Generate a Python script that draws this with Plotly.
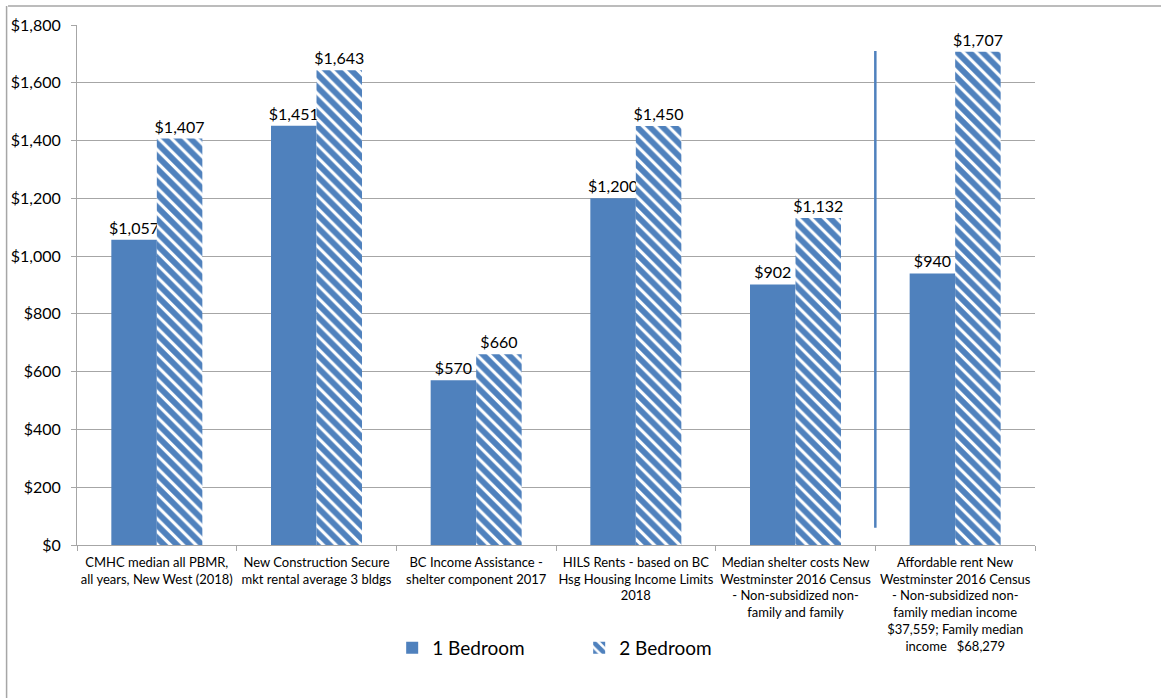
import plotly.graph_objects as go

categories = [
    "CMHC median all PBMR,<br>all years, New West (2018)",
    "New Construction Secure<br>mkt rental average 3 bldgs",
    "BC Income Assistance -<br>shelter component 2017",
    "HILS Rents - based on BC<br>Hsg Housing Income Limits<br>2018",
    "Median shelter costs New<br>Westminster 2016 Census<br>- Non-subsidized non-<br>family and family",
    "Affordable rent New<br>Westminster 2016 Census<br>- Non-subsidized non-<br>family median income<br>$37,559; Family median<br>income   $68,279",
]
one_bedroom = [1057, 1451, 570, 1200, 902, 940]
two_bedroom = [1407, 1643, 660, 1450, 1132, 1707]
series_names = ["1 Bedroom", "2 Bedroom"]

BLUE = "#4F81BD"
GRID = "#A6A6A6"
FONT = "Lato, 'Open Sans', sans-serif"

fig = go.Figure()
fig.add_trace(go.Bar(
    x=categories, y=one_bedroom, name=series_names[0],
    marker=dict(color=BLUE, line=dict(width=10, color="rgba(0,0,0,0)")),
    texttemplate="$%{y:,}", textposition="outside",
    textfont=dict(size=16, color="#000000"), constraintext="none", cliponaxis=False,
))
fig.add_trace(go.Bar(
    x=categories, y=two_bedroom, name=series_names[1],
    marker=dict(color="white", line=dict(width=10, color="rgba(0,0,0,0)"),
                pattern=dict(shape="\\", fgcolor=BLUE, bgcolor="white", fgopacity=1,
                             size=9, solidity=0.65)),
    texttemplate="$%{y:,}", textposition="outside",
    textfont=dict(size=16, color="#000000"), constraintext="none", cliponaxis=False,
))

fig.update_layout(
    width=1161, height=698,
    margin=dict(l=77, r=126, t=25, b=153, autoexpand=False),
    paper_bgcolor="white", plot_bgcolor="white",
    barmode="group", bargap=0.43, bargroupgap=0,
    font=dict(family=FONT, size=13, color="#000000"),
    showlegend=True,
    legend=dict(orientation="h", x=0.329, xanchor="left", y=-0.198, yanchor="middle",
                font=dict(size=19, color="#000000"), entrywidth=142, entrywidthmode="pixels",
                itemsizing="constant"),
    xaxis=dict(type="category", showgrid=False, showline=True, linecolor=GRID, linewidth=1,
               ticks="outside", tickson="boundaries", ticklen=5, tickcolor=GRID,
               ticklabelstandoff=5, tickangle=0, automargin=False,
               tickfont=dict(size=13, color="#000000")),
    yaxis=dict(range=[0, 1800], dtick=200, tickprefix="$", tickformat=",",
               showgrid=True, gridcolor=GRID, gridwidth=1, zeroline=False,
               showline=True, linecolor=GRID, linewidth=1, automargin=False,
               ticks="outside", ticklen=5, tickcolor=GRID, ticklabelstandoff=7,
               tickfont=dict(size=16, color="#000000")),
    shapes=[
        dict(type="line", xref="x", yref="y", x0=4.5, x1=4.5, y0=60, y1=1710,
             line=dict(color=BLUE, width=2.5)),
        dict(type="line", xref="paper", yref="paper", x0=-0.072, x1=1.2, y0=1.0365, y1=1.0365,
             line=dict(color=GRID, width=1.5)),
        dict(type="line", xref="paper", yref="paper", x0=-0.0735, x1=-0.0735, y0=1.0365, y1=-0.35,
             line=dict(color=GRID, width=1.5)),
    ],
)

fig.write_html("out.html")
